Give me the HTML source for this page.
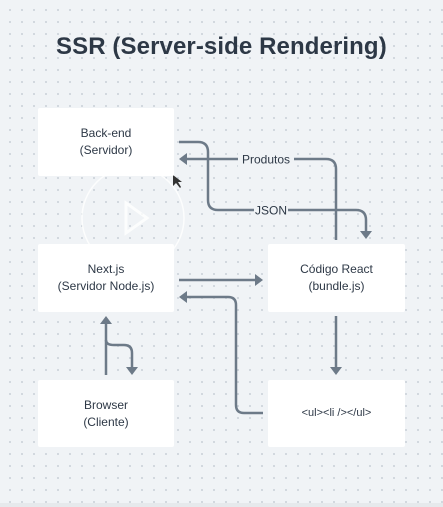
<!DOCTYPE html>
<html><head><meta charset="utf-8"><style>
html,body{margin:0;padding:0}
body{width:443px;height:507px;overflow:hidden;background:#f0f3f6;font-family:"Liberation Sans",sans-serif;position:relative}
.bg{position:absolute;left:0;top:0;width:443px;height:503px;background-image:radial-gradient(circle,#c9d0d8 0.8px,transparent 1.1px);background-size:12px 12px;background-position:4px 4px}
.bot{position:absolute;left:0;top:503px;width:443px;height:4px;background:#e6e9ec}
.t{position:absolute;left:56px;top:33px;font-size:24px;font-weight:bold;color:#2d3846;white-space:nowrap;letter-spacing:0.1px}
.b{position:absolute;background:#fff;border-radius:2px;display:flex;align-items:center;justify-content:center;text-align:center;font-size:12px;line-height:17px;color:#2d3846}
</style></head><body>
<div class="bg"></div><div class="bot"></div>
<div class="t">SSR (Server-side Rendering)</div>
<svg width="443" height="507" style="position:absolute;left:0;top:0">
<circle cx="133" cy="218" r="51" fill="none" stroke="#fff" stroke-width="1.5" opacity="0.8"/>
<polygon points="126,203 126,233 147,218" fill="none" stroke="#fff" stroke-width="3" opacity="0.8"/>
<g fill="none" stroke="#6d7a88" stroke-width="2.5">
<path d="M179 142 H198 Q208 142 208 152 V200 Q208 210 218 210 H356 Q366 210 366 220 V232"/>
<path d="M336 240 V169 Q336 159 326 159 H186"/>
<path d="M179 280 H256"/>
<path d="M263 413 H244 Q236 413 236 405 V305 Q236 297 228 297 H186"/>
<path d="M336 316 V368"/>
<path d="M106 375 V322"/>
<path d="M106 340 Q106 345 114 345 H124 Q132 345 132 353 V368"/>
</g>
<g fill="#6d7a88">
<polygon points="366,239 360,231 372,231"/>
<polygon points="179,159 187,153 187,165"/>
<polygon points="263,280 255,274 255,286"/>
<polygon points="179,297 187,291 187,303"/>
<polygon points="336,375 330,367 342,367"/>
<polygon points="106,316 100,324 112,324"/>
<polygon points="132,375 126,367 138,367"/>
</g>
<rect x="238" y="151" width="56" height="16" fill="#f0f3f6"/>
<rect x="254" y="202" width="34" height="16" fill="#f0f3f6"/>
<text x="266" y="163.5" font-size="12" fill="#2d3846" text-anchor="middle" font-family="Liberation Sans">Produtos</text>
<text x="271" y="214.5" font-size="12" fill="#2d3846" text-anchor="middle" font-family="Liberation Sans">JSON</text>
<polygon points="173,175 173,186 176,183 180,188 181,187 178,182 182,182" fill="#333"/>
</svg>
<div class="b" style="left:38px;top:108px;width:136px;height:68px">Back-end<br>(Servidor)</div>
<div class="b" style="left:38px;top:244px;width:136px;height:68px">Next.js<br>(Servidor Node.js)</div>
<div class="b" style="left:268px;top:244px;width:137px;height:68px">Código React<br>(bundle.js)</div>
<div class="b" style="left:38px;top:380px;width:136px;height:67px">Browser<br>(Cliente)</div>
<div class="b" style="left:268px;top:380px;width:137px;height:67px;font-size:11px">&lt;ul&gt;&lt;li /&gt;&lt;/ul&gt;</div>
</body></html>
